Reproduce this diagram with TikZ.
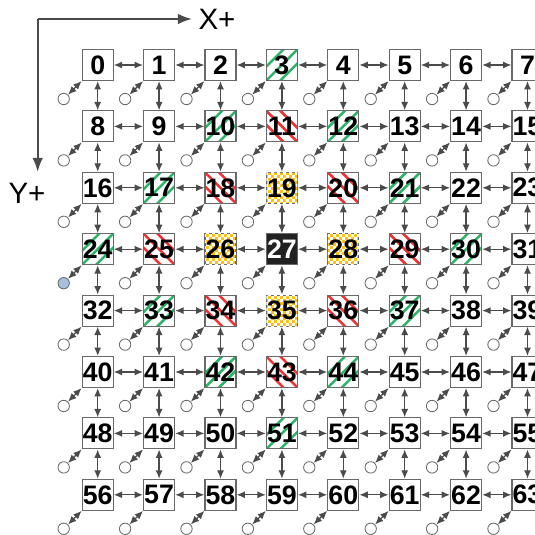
\documentclass[tikz,border=0pt]{standalone}
\usepackage{fontspec}
\setmainfont{Liberation Sans}
\usepackage{tikz}
\usetikzlibrary{arrows.meta,positioning,calc,patterns}
\definecolor{boxgray}{RGB}{105,105,105}
\definecolor{linkgray}{RGB}{75,75,75}
\definecolor{stripegreen}{RGB}{45,180,105}
\definecolor{stripered}{RGB}{240,50,50}
\definecolor{checkyellow}{RGB}{255,192,0}
\definecolor{centerblack}{RGB}{34,34,34}
\definecolor{originblue}{RGB}{166,192,222}
% fine checks for the yellow cells
\pgfdeclarepatternformonly{finecheck}{\pgfpointorigin}{\pgfqpoint{4.2pt}{4.2pt}}{\pgfqpoint{4.2pt}{4.2pt}}{
  \pgfpathrectangle{\pgfpointorigin}{\pgfqpoint{2.1pt}{2.1pt}}
  \pgfpathrectangle{\pgfqpoint{2.1pt}{2.1pt}}{\pgfqpoint{2.1pt}{2.1pt}}
  \pgfusepath{fill}}

\begin{document}
\begin{tikzpicture}[x=0.025cm,y=-0.025cm,>={Latex[length=6pt,width=5pt]},
    kind0/.style={draw=boxgray,line width=0.75pt,fill=white,minimum size=0.775cm,inner sep=0pt,
      font=\fontsize{19}{19}\selectfont\bfseries},
    kind1/.style={kind0,path picture={\foreach \s in {-0.35,0,0.35}
        \draw[stripegreen,line width=1.8pt]
          ([shift={(-0.6cm,{-0.6cm+\s cm})}]path picture bounding box.center) --
          ([shift={(0.6cm,{0.6cm+\s cm})}]path picture bounding box.center);}},
    kind2/.style={kind0,path picture={\foreach \s in {-0.35,0,0.35}
        \draw[stripered,line width=1.8pt]
          ([shift={(-0.6cm,{0.6cm+\s cm})}]path picture bounding box.center) --
          ([shift={(0.6cm,{-0.6cm+\s cm})}]path picture bounding box.center);}},
    kind3/.style={kind0,fill=checkyellow,postaction={pattern=finecheck,pattern color=white}},
    kind4/.style={kind0,fill=centerblack,text=white},
    port/.style={circle,draw=boxgray,fill=white,line width=0.6pt,minimum size=0.285cm,inner sep=0pt},
    originport/.style={port,fill=originblue},
    link/.style={<->,linkgray,line width=0.9pt},
    axis/.style={-{Latex[length=10pt,width=7.5pt]},linkgray,line width=1.4pt},
    axislabel/.style={font=\fontsize{21}{21}\selectfont,inner sep=0pt}]
    \useasboundingbox (0,0) rectangle (535,535);

    % Axes
    \coordinate (corner) at (37.7,19);
    \coordinate (xtip) at (192,19);
    \coordinate (ytip) at (37.7,172);
    \draw[axis] (corner) -- (xtip);
    \draw[axis] (corner) -- (ytip);
    \node[axislabel] (xlabel) at (217,19) {X+};
    \node[axislabel] (ylabel) at (27,193.5) {Y+};

    % 0 plain, 1 green, 2 red, 3 yellow, 4 centre
    \def\kinds{{0,0,0,1,0,0,0,0, 0,0,1,2,1,0,0,0, 0,1,2,3,2,1,0,0, 1,2,3,4,3,2,1,0,
                0,1,2,3,2,1,0,0, 0,0,1,2,1,0,0,0, 0,0,0,1,0,0,0,0, 0,0,0,0,0,0,0,0}}

    % Cells and their ports
    \foreach \r in {0,...,7}
      \foreach \c in {0,...,7} {
        \pgfmathtruncatemacro\n{8*\r+\c}
        \pgfmathtruncatemacro\k{\kinds[\n]}
        \node[kind\k] (n\n) at ({97.7+61.4*\c},{65+61.4*\r}) {\n};
        \ifnum\n=24 \def\pk{originport}\else\def\pk{port}\fi
        \node[\pk] (c\n) at ({63.7+61.4*\c},{99+61.4*\r}) {};
        \draw[link] (c\n) -- (n\n.south west);
      }

    % Horizontal links
    \foreach \r in {0,...,7}
      \foreach \c in {0,...,6} {
        \pgfmathtruncatemacro\a{8*\r+\c}
        \pgfmathtruncatemacro\b{\a+1}
        \draw[link] (n\a) -- (n\b);
      }

    % Vertical links
    \foreach \r in {0,...,6}
      \foreach \c in {0,...,7} {
        \pgfmathtruncatemacro\a{8*\r+\c}
        \pgfmathtruncatemacro\b{\a+8}
        \draw[link] (n\a) -- (n\b);
      }
\end{tikzpicture}
\end{document}
